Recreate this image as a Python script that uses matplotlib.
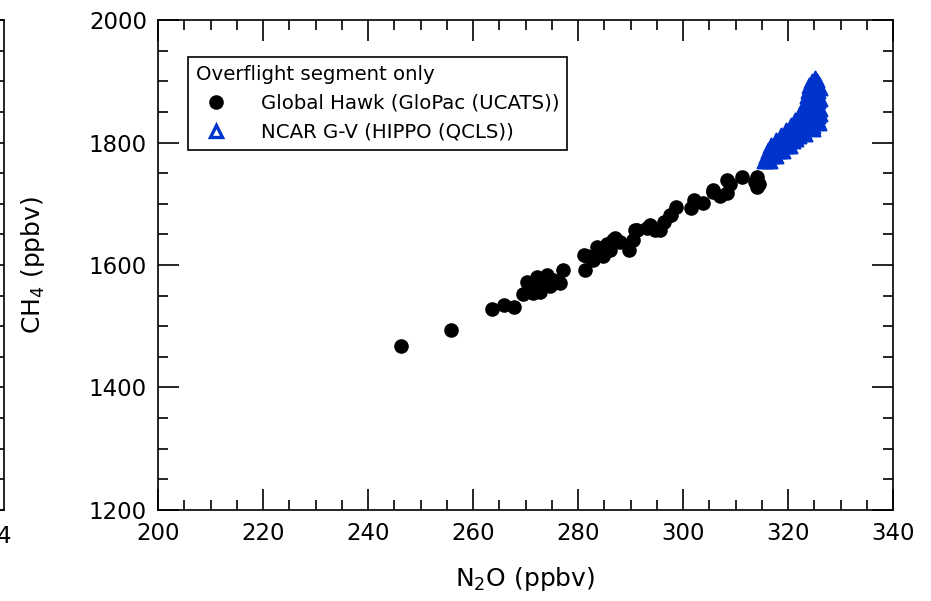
import numpy as np
import matplotlib.pyplot as plt
from matplotlib.lines import Line2D
from matplotlib.ticker import MultipleLocator

# GloPac (UCATS) points, overflight segment
glopac_n2o = [246.2, 255.8, 263.7, 265.9, 267.8, 269.6, 270.2, 271.5, 272.1, 272.8,
              274.0, 274.7, 275.3, 276.6, 277.1, 273.4, 271.4, 281.1, 281.3, 283.6,
              282.9, 284.8, 285.5, 287.0, 288.0, 289.8, 290.5, 291.2, 293.1, 294.7,
              296.3, 297.5, 298.7, 284.2, 286.1, 281.7, 286.7, 290.9, 293.7, 295.6,
              297.8, 301.6, 302.0, 303.9, 305.8, 307.0, 309.0, 308.3, 311.2, 313.7,
              314.0, 314.4, 305.7, 308.3, 314.0]
glopac_ch4 = [1468, 1494, 1528, 1535, 1531, 1553, 1573, 1554, 1581, 1556,
              1584, 1565, 1576, 1570, 1592, 1570, 1567, 1617, 1592, 1630,
              1608, 1614, 1635, 1644, 1638, 1624, 1641, 1657, 1660, 1657,
              1671, 1682, 1695, 1622, 1624, 1614, 1641, 1657, 1665, 1657,
              1682, 1693, 1706, 1701, 1720, 1712, 1733, 1717, 1744, 1736,
              1728, 1733, 1722, 1739, 1744]

# HIPPO (QCLS) points, overflight segment
hippo_n2o = [315.0, 316.0, 317.0,
             315.4, 316.4, 317.3, 318.1,
             315.8, 316.8, 317.7, 318.7, 319.4,
             316.2, 317.1, 318.1, 319.0, 320.0, 320.8,
             316.8, 317.7, 318.7, 319.6, 320.6, 321.3,
             317.7, 318.7, 319.6, 320.6, 321.5, 322.5,
             318.7, 319.6, 320.6, 321.5, 322.5, 323.2,
             319.6, 320.6, 321.5, 322.5, 323.4, 324.4, 325.2,
             320.6, 321.5, 322.5, 323.4, 324.4, 325.3, 326.0,
             321.3, 322.3, 323.2, 324.2, 325.2, 326.0,
             322.1, 323.0, 324.0, 325.0, 326.0,
             322.9, 323.8, 324.8, 325.7,
             323.0, 324.0, 325.0, 326.0,
             323.2, 324.2, 325.2, 326.0,
             323.4, 324.4, 325.3, 326.1,
             323.6, 324.6, 325.5, 326.1,
             324.0, 325.0, 325.7,
             324.6, 325.5,
             # extra points along the outer edge
             316.5, 318.9, 320.4, 321.9, 323.6, 325.1, 326.3, 326.4,
             326.4, 326.5, 326.4, 325.9, 325.2]
hippo_ch4 = [1766] * 3 + [1775] * 4 + [1783] * 5 + [1791] * 6 + [1799] * 6 \
    + [1807] * 6 + [1815] * 6 + [1824] * 7 + [1832] * 7 + [1840] * 6 \
    + [1848] * 5 + [1856] * 4 + [1864] * 4 + [1873] * 4 + [1881] * 4 \
    + [1889] * 4 + [1897] * 3 + [1904] * 2 \
    + [1770, 1787, 1796, 1803, 1811, 1818, 1828, 1844,
       1852, 1868, 1885, 1899, 1908]

blue = '#0033cc'

fig = plt.figure(figsize=(9.31, 6.01), dpi=100)
W, H = 931, 601
ax = fig.add_axes([158 / W, 1 - 510 / H, (893 - 158) / W, 490 / H])

# remnant of the neighbouring panel on the left
ax0 = fig.add_axes([-0.3, 1 - 510 / H, 0.3 + 4 / W, 490 / H])
ax0.set_ylim(1200, 2000)
ax0.set_xlim(0, 1)
ax0.yaxis.set_major_locator(MultipleLocator(50))
ax0.tick_params(axis='y', left=False, right=True, labelleft=False,
                direction='in', length=6, width=1.2)
ax0.set_xticks([1])
ax0.set_xticklabels(['4'], fontsize=16.5)
ax0.tick_params(axis='x', bottom=False, pad=7)
for s in ax0.spines.values():
    s.set_linewidth(1.2)

ax.scatter(hippo_n2o, hippo_ch4, marker='^', s=50, color=blue,
           edgecolors=blue, linewidths=1.5, zorder=2)
ax.scatter(glopac_n2o, glopac_ch4, marker='o', s=90, color='black', zorder=3)

ax.set_xlim(200, 340)
ax.set_ylim(1200, 2000)
ax.xaxis.set_major_locator(MultipleLocator(20))
ax.xaxis.set_minor_locator(MultipleLocator(5))
ax.yaxis.set_major_locator(MultipleLocator(200))
ax.yaxis.set_minor_locator(MultipleLocator(50))
ax.tick_params(which='both', direction='in', top=True, right=True, width=1.2)
ax.tick_params(which='major', length=15, labelsize=16.5)
ax.tick_params(axis='x', which='major', pad=9)
ax.tick_params(axis='y', which='major', pad=8)
ax.tick_params(which='minor', length=7.5)
for s in ax.spines.values():
    s.set_linewidth(1.2)

ax.set_xlabel('N$_2$O (ppbv)', fontsize=18, labelpad=14)
ax.set_ylabel('CH$_4$ (ppbv)', fontsize=18, labelpad=30)

handles = [
    Line2D([], [], marker='o', linestyle='none', color='black', markersize=9.5),
    Line2D([], [], marker='^', linestyle='none', markerfacecolor='white',
           markeredgecolor=blue, markeredgewidth=2.4, markersize=8),
]
leg = ax.legend(handles, ['Global Hawk (GloPac (UCATS))', 'NCAR G-V (HIPPO (QCLS))'],
                title='Overflight segment only', loc='upper left',
                bbox_to_anchor=(30 / 735, 1 - 37 / 490), fontsize=14.2,
                title_fontsize=14.2, alignment='left', fancybox=False,
                edgecolor='black', framealpha=1, borderpad=0.4,
                handletextpad=1.3, labelspacing=0.5, borderaxespad=0)
leg.get_frame().set_linewidth(1.2)

fig.savefig('out.png', dpi=100)
